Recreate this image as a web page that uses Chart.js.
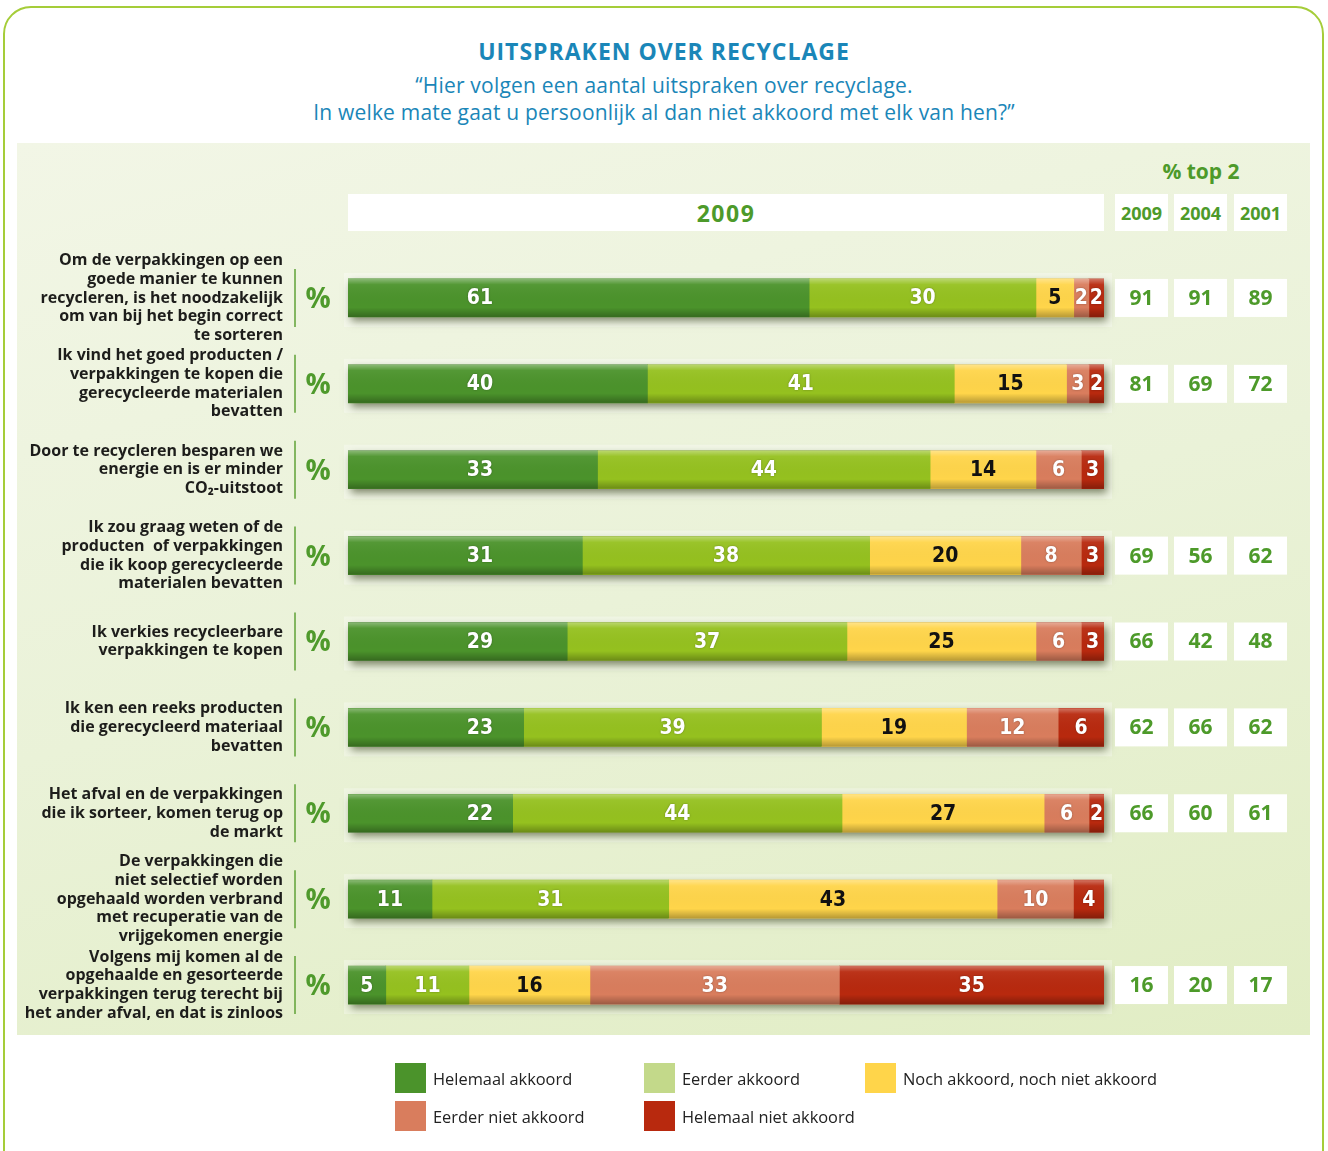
<!DOCTYPE html>
<html>
<head>
<meta charset="utf-8">
<title>Uitspraken over recyclage</title>
<script src="https://cdn.jsdelivr.net/npm/chart.js@4.4.1/dist/chart.umd.min.js"></script>
<style>
  html, body { margin: 0; padding: 0; width: 1328px; height: 1151px; overflow: hidden; background: #fff; font-family: "Open Sans", sans-serif; }
  .frame { position: absolute; left: 3px; top: 6px; width: 1321px; height: 1190px; border: 2px solid #a5cd39; border-radius: 28px; box-sizing: border-box; }
  .title { position: absolute; left: 0; width: 1328px; top: 35px; text-align: center; color: #1a86b8; font-weight: 700; font-size: 23px; letter-spacing: 1px; }
  .sub { position: absolute; left: 0; width: 1328px; top: 72px; text-align: center; color: #1a86b8; font-size: 21px; line-height: 27px; letter-spacing: 0.2px; }
  .panel { position: absolute; left: 17px; top: 143px; width: 1293px; height: 892px; background: linear-gradient(165deg, #f2f6e6 0%, #eaf2d8 50%, #e1edc4 100%); }
  .top2 { position: absolute; left: 1115px; width: 172px; top: 157px; text-align: center; color: #4d9a2a; font-weight: 700; font-size: 21px; }
  .hbox { position: absolute; top: 194px; height: 37px; background: #fff; color: #4d9a2a; font-weight: 700; display: flex; align-items: center; justify-content: center; }
  #chart { position: absolute; left: 0; top: 0; }
  .leg { position: absolute; display: flex; align-items: center; font-size: 16.4px; color: #222; }
  .leg span.sw { width: 31px; height: 30px; margin-right: 7px; display: inline-block; }
</style>
</head>
<body>
<div class="frame"></div>
<div class="title">UITSPRAKEN OVER RECYCLAGE</div>
<div class="sub">“Hier volgen een aantal uitspraken over recyclage.<br>In welke mate gaat u persoonlijk al dan niet akkoord met elk van hen?”</div>
<div class="panel"></div>
<div class="top2">% top 2</div>
<div class="hbox" style="left:348px;width:756px;font-size:23px;letter-spacing:1.5px;">2009</div>
<div id="yearBoxes"></div>
<canvas id="chart" width="1328" height="1151"></canvas>
<div id="legend"></div>

<script>
/* ── Données ─────────────────────────────────────────────── */
const categories = [
  ['Om de verpakkingen op een', 'goede manier te kunnen', 'recycleren, is het noodzakelijk', 'om van bij het begin correct', 'te sorteren'],
  ['Ik vind het goed producten /', 'verpakkingen te kopen die', 'gerecycleerde materialen', 'bevatten'],
  ['Door te recycleren besparen we', 'energie en is er minder', 'CO₂-uitstoot'],
  ['Ik zou graag weten of de', 'producten  of verpakkingen', 'die ik koop gerecycleerde', 'materialen bevatten'],
  ['Ik verkies recycleerbare', 'verpakkingen te kopen'],
  ['Ik ken een reeks producten', 'die gerecycleerd materiaal', 'bevatten'],
  ['Het afval en de verpakkingen', 'die ik sorteer, komen terug op', 'de markt'],
  ['De verpakkingen die', 'niet selectief worden', 'opgehaald worden verbrand', 'met recuperatie van de', 'vrijgekomen energie'],
  ['Volgens mij komen al de', 'opgehaalde en gesorteerde', 'verpakkingen terug terecht bij', 'het ander afval, en dat is zinloos']
];

const seriesNames = ['Helemaal akkoord', 'Eerder akkoord', 'Noch akkoord, noch niet akkoord', 'Eerder niet akkoord', 'Helemaal niet akkoord'];

const helemaalAkkoord     = [61, 40, 33, 31, 29, 23, 22, 11, 5];
const eerderAkkoord       = [30, 41, 44, 38, 37, 39, 44, 31, 11];
const nochAkkoord         = [5, 15, 14, 20, 25, 19, 27, 43, 16];
const eerderNietAkkoord   = [2, 3, 6, 8, 6, 12, 6, 10, 33];
const helemaalNietAkkoord = [2, 2, 3, 3, 3, 6, 2, 4, 35];

const topYears  = ['2009', '2004', '2001'];
const top2_2009 = [91, 81, null, 69, 66, 62, 66, null, 16];
const top2_2004 = [91, 69, null, 56, 42, 66, 60, null, 20];
const top2_2001 = [89, 72, null, 62, 48, 62, 61, null, 17];

/* ── Styles ──────────────────────────────────────────────── */
const barColors    = ['#4b932b', '#95c11f', '#ffd54a', '#d97d5d', '#b8290e'];
const legendColors = ['#4b932b', '#c3d98a', '#ffd54a', '#d97d5d', '#b8290e'];
const labelColors  = ['#fff', '#fff', '#111', '#fff', '#fff'];
const GREEN = '#4d9a2a';
const TABLE_X = [1115, 1174, 1234];
const TABLE_W = 53;

const seriesValues = [helemaalAkkoord, eerderAkkoord, nochAkkoord, eerderNietAkkoord, helemaalNietAkkoord];
const top2Columns = [top2_2009, top2_2004, top2_2001];

// chaque barre remplit toute la largeur (somme ramenée à 100)
const rowTotals = categories.map((_, i) => seriesValues.reduce((s, arr) => s + arr[i], 0));

/* ── En-têtes HTML ───────────────────────────────────────── */
const yb = document.getElementById('yearBoxes');
topYears.forEach((y, k) => {
  const d = document.createElement('div');
  d.className = 'hbox';
  d.style.left = TABLE_X[k] + 'px';
  d.style.width = TABLE_W + 'px';
  d.style.fontSize = '18px';
  d.textContent = y;
  yb.appendChild(d);
});

const legendPos = [[395, 1063], [644, 1063], [865, 1063], [395, 1101], [644, 1101]];
const lg = document.getElementById('legend');
seriesNames.forEach((name, k) => {
  const d = document.createElement('div');
  d.className = 'leg';
  d.style.left = legendPos[k][0] + 'px';
  d.style.top = legendPos[k][1] + 'px';
  d.innerHTML = '<span class="sw" style="background:' + legendColors[k] + '"></span>' + name;
  lg.appendChild(d);
});

/* ── Plugins ─────────────────────────────────────────────── */
function rowExtents(chart, i) {
  const first = chart.getDatasetMeta(0).data[i];
  const last = chart.getDatasetMeta(chart.data.datasets.length - 1).data[i];
  return { left: first.base, right: last.x, y: first.y, h: first.height };
}

const barDecor = {
  id: 'barDecor',
  beforeDatasetsDraw(chart) {
    const ctx = chart.ctx;
    categories.forEach((_, i) => {
      const r = rowExtents(chart, i);
      const top = r.y - r.h / 2;
      ctx.save();
      ctx.fillStyle = 'rgba(255,255,255,0.3)';
      ctx.fillRect(r.left - 4, top - 6, r.right - r.left + 12, r.h + 16);
      ctx.shadowColor = 'rgba(30,40,0,0.55)';
      ctx.shadowBlur = 8;
      ctx.shadowOffsetX = 3;
      ctx.shadowOffsetY = 4;
      ctx.fillStyle = '#556';
      ctx.fillRect(r.left, top, r.right - r.left, r.h);
      ctx.restore();
    });
  },
  afterDatasetsDraw(chart) {
    const ctx = chart.ctx;
    // relief
    categories.forEach((_, i) => {
      const r = rowExtents(chart, i);
      const top = r.y - r.h / 2;
      const g = ctx.createLinearGradient(0, top, 0, top + r.h);
      g.addColorStop(0, 'rgba(255,255,255,0.35)');
      g.addColorStop(0.15, 'rgba(255,255,255,0.05)');
      g.addColorStop(0.75, 'rgba(0,0,0,0)');
      g.addColorStop(1, 'rgba(0,0,0,0.28)');
      ctx.fillStyle = g;
      ctx.fillRect(r.left, top, r.right - r.left, r.h);
    });
    // valeurs
    ctx.save();
    ctx.font = 'bold 21px "Liberation Sans Narrow", "DejaVu Sans Condensed", Roboto, sans-serif';
    ctx.textAlign = 'center';
    ctx.textBaseline = 'middle';
    chart.data.datasets.forEach((ds, d) => {
      chart.getDatasetMeta(d).data.forEach((el, i) => {
        let x = (el.x + el.base) / 2;
        if (d === 0 && el.x > el.base + 157) x = el.base + 132;
        ctx.shadowColor = d === 2 ? 'rgba(0,0,0,0)' : 'rgba(0,0,0,0.35)';
        ctx.shadowBlur = 2;
        ctx.fillStyle = labelColors[d];
        ctx.fillText(String(ds.raw[i]), x, el.y + 1);
      });
    });
    ctx.restore();
  },
  afterDraw(chart) {
    const ctx = chart.ctx;
    const yScale = chart.scales.y;
    ctx.save();
    categories.forEach((_, i) => {
      const y = yScale.getPixelForValue(i);
      // trait + symbole %
      ctx.strokeStyle = '#5fa236';
      ctx.lineWidth = 1.5;
      ctx.beginPath();
      ctx.moveTo(295, y - 29);
      ctx.lineTo(295, y + 29);
      ctx.stroke();
      ctx.fillStyle = '#4f9a2c';
      ctx.font = 'bold 28px "Open Sans", sans-serif';
      ctx.textAlign = 'center';
      ctx.textBaseline = 'middle';
      ctx.fillText('%', 318, y + 2);
      // tableau % top 2
      const h = chart.getDatasetMeta(0).data[i].height;
      top2Columns.forEach((col, k) => {
        if (col[i] == null) return;
        ctx.fillStyle = '#fff';
        ctx.fillRect(TABLE_X[k], y - h / 2, TABLE_W, h);
        ctx.fillStyle = GREEN;
        ctx.font = 'bold 21px "Open Sans", sans-serif';
        ctx.fillText(String(col[i]), TABLE_X[k] + TABLE_W / 2, y + 1);
      });
    });
    ctx.restore();
  }
};

/* ── Graphique ───────────────────────────────────────────── */
new Chart(document.getElementById('chart'), {
  type: 'bar',
  data: {
    labels: categories,
    datasets: seriesNames.map((name, d) => ({
      label: name,
      raw: seriesValues[d],
      data: seriesValues[d].map((v, i) => v / rowTotals[i] * 100),
      backgroundColor: barColors[d],
      borderWidth: 0,
      barThickness: 38
    }))
  },
  options: {
    indexAxis: 'y',
    responsive: false,
    animation: false,
    devicePixelRatio: 1,
    layout: { padding: { left: 0, right: 224, top: 255, bottom: 123 } },
    scales: {
      x: { stacked: true, min: 0, max: 100, display: false },
      y: {
        stacked: true,
        grid: { display: false, drawTicks: false },
        border: { display: false },
        ticks: {
          autoSkip: false,
          color: '#1d1d1b',
          padding: 65,
          font: { family: '"Open Sans", sans-serif', size: 16, weight: 'bold', lineHeight: 1.17 }
        },
        afterFit(scale) { scale.width = 348; }
      }
    },
    plugins: {
      legend: { display: false },
      tooltip: { enabled: false }
    }
  },
  plugins: [barDecor]
});
</script>
</body>
</html>
